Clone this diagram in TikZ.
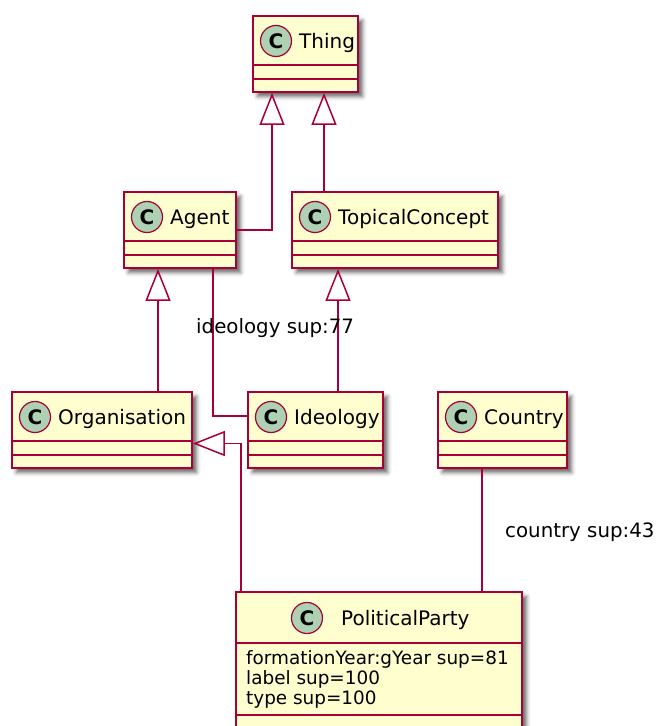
\documentclass[tikz,border=0pt]{standalone}
\usepackage{fontspec}
\setmainfont{DejaVu Sans}
\usetikzlibrary{arrows.meta,shadows.blur}
\definecolor{umlfill}{HTML}{FEFECE}
\definecolor{umlline}{HTML}{A80036}
\definecolor{umlspot}{HTML}{ADD1B2}
\tikzset{
  classbox/.style={draw=umlline, fill=umlfill, line width=1.8pt, inner sep=0pt,
    blur shadow={shadow xshift=4.5pt, shadow yshift=-4.5pt, shadow blur radius=4pt, shadow opacity=60}},
  sep/.style={draw=umlline, line width=1.8pt},
  spot/.style={circle, draw=umlline, fill=umlspot, line width=1.2pt, minimum size=31pt,
    inner sep=0pt, font=\bfseries\fontsize{20}{20}\selectfont},
  cname/.style={anchor=base west, inner sep=0pt, font=\fontsize{20}{23}\selectfont},
  attr/.style={anchor=base west, inner sep=0pt, font=\fontsize{18.4}{20}\selectfont},
  lbl/.style={anchor=base west, inner sep=0pt, font=\fontsize{19.8}{23}\selectfont},
  conn/.style={draw=umlline, line width=1.5pt},
  isa/.style={conn, -{Triangle[open, length=32pt, width=25pt]}},
}
% class with a header and two empty compartments
% #1 node name, #2 left, #3 top, #4 right, #5 bottom, #6 class name
\newcommand\emptyclass[6]{%
  \node[classbox, minimum width={(#4-#2)*1pt}, minimum height={(#5-#3)*1pt}]
    (#1) at ({(#2+#4)/2},{(#3+#5)/2}) {};
  \draw[sep] ([yshift=-50pt]#1.north west) -- ([yshift=-50pt]#1.north east);
  \draw[sep] ([yshift=-64pt]#1.north west) -- ([yshift=-64pt]#1.north east);
  \node[spot] (#1-spot) at (#2+23,#3+25) {C};
  \node[cname] (#1-name) at (#2+46,#3+32) {#6};
}
\begin{document}
\begin{tikzpicture}[x=1pt,y=-1pt]
  \useasboundingbox (0,0) rectangle (657,726);
  \clip (0,0) rectangle (657,726);

  % classes
  \emptyclass{thing}{253}{16}{358}{92}{Thing}
  \emptyclass{agent}{124}{192}{236}{268}{Agent}
  \emptyclass{topical}{292}{192}{498}{268}{TopicalConcept}
  \emptyclass{organisation}{12}{392}{192}{468}{Organisation}
  \emptyclass{ideology}{248}{392}{383}{468}{Ideology}
  \emptyclass{country}{438}{392}{567}{468}{Country}

  % class with attributes
  \node[classbox, minimum width=286pt, minimum height=140pt] (party) at (379,662) {};
  \draw[sep] ([yshift=-52pt]party.north west) -- ([yshift=-52pt]party.north east);
  \draw[sep] ([yshift=-124pt]party.north west) -- ([yshift=-124pt]party.north east);
  \node[spot] (party-spot) at (307,618) {C};
  \node[cname] (party-name) at (341,625) {PoliticalParty};
  \node[attr] (party-a1) at (246,664) {formationYear:gYear sup=81};
  \node[attr] (party-a2) at (246,684) {label sup=100};
  \node[attr] (party-a3) at (246,704) {type sup=100};

  % generalisations
  \draw[isa] (agent.east) -| ([xshift=-33.5pt]thing.south);
  \draw[isa] ([xshift=-71pt]topical.north) -- ([xshift=18.5pt]thing.south);
  \draw[isa] ([xshift=56pt]organisation.north) -- ([xshift=-22pt]agent.south);
  \draw[isa] ([xshift=22.5pt]ideology.north) -- ([xshift=-57pt]topical.south);
  \draw[isa] ([xshift=-138pt]party.north) |- ([yshift=-13.5pt]organisation.east);

  % associations
  \draw[conn] ([xshift=33pt]agent.south) |- ([yshift=14pt]ideology.west);
  \node[lbl] (l-ideology) at (196,333) {ideology sup:77};
  \draw[conn] ([xshift=-20.5pt]country.south) -- ([xshift=103pt]party.north);
  \node[lbl] (l-country) at (505,537) {country sup:43};
\end{tikzpicture}
\end{document}
